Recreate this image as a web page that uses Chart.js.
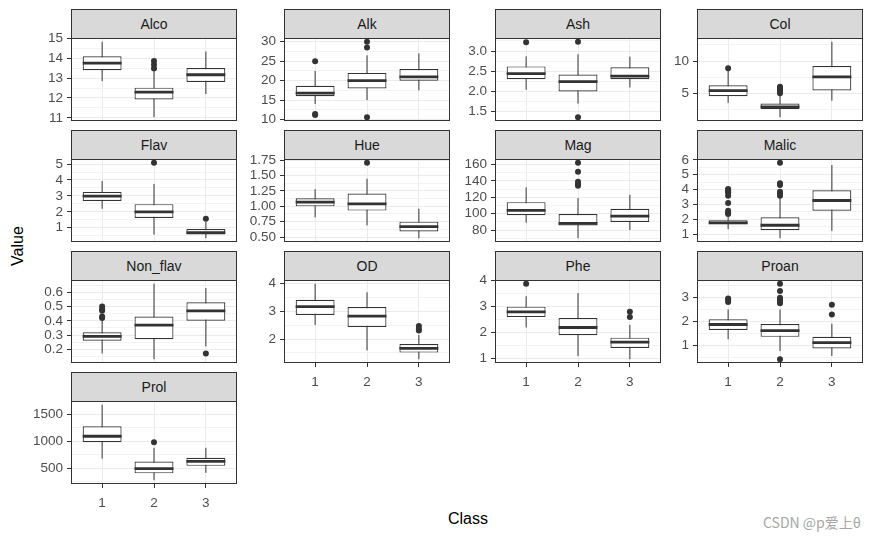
<!DOCTYPE html>
<html>
<head>
<meta charset="utf-8">
<script src="https://cdn.jsdelivr.net/npm/chart.js@4.4.1/dist/chart.umd.min.js"></script>
<style>
  body { margin: 0; width: 875px; height: 540px; background: #fff; position: relative; overflow: hidden;
         font-family: Arial, "Liberation Sans", sans-serif; }
  canvas { position: absolute; }
  .strip { position: absolute; box-sizing: border-box; background: #D9D9D9; border: 1px solid #333;
           text-align: center; color: #1A1A1A; font-size: 14px; }
  .title { position: absolute; color: #000; font-size: 16px; text-align: center; }
  .mark { position: absolute; left: 763px; top: 512px; font-size: 14px; color: #a6a6a6;
          font-family: "Noto Sans CJK SC", Arial, sans-serif; }
</style>
</head>
<body>
<div class="title" style="left:418px;top:510px;width:100px;">Class</div>
<div class="title" style="left:-32px;top:237px;width:100px;transform:rotate(-90deg);">Value</div>
<div class="mark">CSDN @p爱上θ</div>
<script>
// ===============================
// DATA  (per class: [low whisker, Q1, median, Q3, high whisker])
// ===============================
const classes = [1, 2, 3];

const alco = [[12.85, 13.40, 13.75, 14.10, 14.83], [11.03, 11.92, 12.29, 12.52, 13.34], [12.20, 12.81, 13.17, 13.51, 14.34]];
const alcoOut = [[], [13.49, 13.67, 13.86], []];
const alcoTicks = [11, 12, 13, 14, 15];

const alk = [[14.0, 16.0, 16.8, 18.7, 22.5], [15.0, 18.0, 20.0, 22.0, 26.5], [17.5, 20.0, 21.0, 23.0, 27.0]];
const alkOut = [[11.2, 11.4, 25.0], [10.6, 28.5, 30.0], []];
const alkTicks = [10, 15, 20, 25, 30];

const ash = [[2.04, 2.30, 2.44, 2.62, 2.87], [1.70, 2.00, 2.24, 2.42, 2.92], [2.10, 2.30, 2.38, 2.60, 2.86]];
const ashOut = [[3.22], [1.36, 3.23], []];
const ashTicks = [1.5, 2.0, 2.5, 3.0];

const col = [[3.52, 4.55, 5.40, 6.23, 8.70], [1.28, 2.54, 2.90, 3.40, 4.68], [3.85, 5.44, 7.55, 9.23, 13.0]];
const colOut = [[8.90], [5.00, 5.30, 5.68, 5.75, 6.00], []];
const colTicks = [5, 10];

const flav = [[2.19, 2.68, 2.98, 3.25, 3.93], [0.57, 1.61, 2.00, 2.48, 3.75], [0.34, 0.58, 0.69, 0.92, 1.36]];
const flavOut = [[], [5.08], [1.57]];
const flavTicks = [1, 2, 3, 4, 5];

const hue = [[0.82, 1.00, 1.07, 1.13, 1.28], [0.69, 0.93, 1.04, 1.21, 1.45], [0.48, 0.59, 0.67, 0.75, 0.96]];
const hueOut = [[], [1.71], []];
const hueTicks = [0.5, 0.75, 1.0, 1.25, 1.5, 1.75];

const mag = [[89, 98, 104, 114, 132], [70, 85.5, 88, 99.5, 119], [80, 89.75, 97, 106, 123]];
const magOut = [[], [134, 136, 139, 151, 162], []];
const magTicks = [80, 100, 120, 140, 160];

const malic = [[1.35, 1.67, 1.77, 1.94, 2.16], [0.74, 1.27, 1.61, 2.15, 3.43], [1.24, 2.59, 3.27, 3.96, 5.65]];
const malicOut = [[2.36, 2.43, 2.58, 3.10, 3.59, 3.80, 3.87, 3.98, 4.04], [3.59, 3.74, 3.86, 4.31, 4.43, 5.80], []];
const malicTicks = [1, 2, 3, 4, 5, 6];

const nonFlav = [[0.17, 0.26, 0.29, 0.32, 0.40], [0.13, 0.27, 0.37, 0.43, 0.66], [0.22, 0.40, 0.47, 0.53, 0.63]];
const nonFlavOut = [[0.42, 0.43, 0.47, 0.48, 0.50], [], [0.17]];
const nonFlavTicks = [0.2, 0.3, 0.4, 0.5, 0.6];

const od = [[2.51, 2.87, 3.17, 3.42, 4.00], [1.59, 2.44, 2.83, 3.16, 3.69], [1.27, 1.51, 1.66, 1.82, 2.15]];
const odOut = [[], [], [2.31, 2.36, 2.47]];
const odTicks = [2, 3, 4];

const phe = [[2.20, 2.60, 2.80, 3.00, 3.40], [1.10, 1.90, 2.20, 2.56, 3.52], [0.98, 1.41, 1.64, 1.81, 2.30]];
const pheOut = [[3.88], [], [2.60, 2.80]];
const pheTicks = [1, 2, 3, 4];

const proan = [[1.25, 1.64, 1.87, 2.09, 2.50], [0.75, 1.35, 1.61, 1.89, 2.50], [0.55, 0.86, 1.11, 1.35, 1.90]];
const proanOut = [[2.81, 2.91, 2.96], [0.41, 2.76, 2.81, 2.91, 2.99, 3.28, 3.58], [2.29, 2.70]];
const proanTicks = [1, 2, 3];

const prol = [[680, 985, 1095, 1280, 1680], [278, 406, 495, 625, 880], [415, 545, 628, 695, 880]];
const prolOut = [[], [985], []];
const prolTicks = [500, 1000, 1500];

const panels = [
  { name: "Alco", box: alco, out: alcoOut, ticks: alcoTicks, digits: 0 },
  { name: "Alk", box: alk, out: alkOut, ticks: alkTicks, digits: 0 },
  { name: "Ash", box: ash, out: ashOut, ticks: ashTicks, digits: 1 },
  { name: "Col", box: col, out: colOut, ticks: colTicks, digits: 0 },
  { name: "Flav", box: flav, out: flavOut, ticks: flavTicks, digits: 0 },
  { name: "Hue", box: hue, out: hueOut, ticks: hueTicks, digits: 2 },
  { name: "Mag", box: mag, out: magOut, ticks: magTicks, digits: 0 },
  { name: "Malic", box: malic, out: malicOut, ticks: malicTicks, digits: 0 },
  { name: "Non_flav", box: nonFlav, out: nonFlavOut, ticks: nonFlavTicks, digits: 1 },
  { name: "OD", box: od, out: odOut, ticks: odTicks, digits: 0 },
  { name: "Phe", box: phe, out: pheOut, ticks: pheTicks, digits: 0 },
  { name: "Proan", box: proan, out: proanOut, ticks: proanTicks, digits: 0 },
  { name: "Prol", box: prol, out: prolOut, ticks: prolTicks, digits: 0 }
];

// ===============================
// LAYOUT
// ===============================
const colLeft = [71, 284, 495, 697];
const rowTop = [9, 130, 251, 372];
const panelW = 168, stripH = 29, plotH = 83, axisW = 56, padTop = 9;
const BOX_W = 0.75;

Chart.defaults.font.family = 'Arial, "Liberation Sans", sans-serif';

const panelBorder = {
  id: "panelBorder",
  afterDraw(chart) {
    const a = chart.chartArea, c = chart.ctx;
    c.save();
    c.strokeStyle = "#333333";
    c.lineWidth = 1;
    c.strokeRect(Math.round(a.left) + 0.5, Math.round(a.top) + 0.5,
                 Math.round(a.right - a.left) - 1, Math.round(a.bottom - a.top) - 1);
    c.restore();
  }
};

function yLimits(p) {
  const all = p.box.flat().concat(p.out.flat());
  const lo = Math.min(...all), hi = Math.max(...all);
  const pad = (hi - lo) * 0.05;
  return [lo - pad, hi + pad];
}

function yTickList(p, min, max) {
  const step = p.ticks[1] - p.ticks[0];
  const list = p.ticks.map(v => ({ value: v, minor: false }));
  const mids = p.ticks.map(v => v - step / 2).concat([p.ticks[p.ticks.length - 1] + step / 2]);
  mids.forEach(v => { if (v >= min && v <= max) list.push({ value: v, minor: true }); });
  return list.sort((a, b) => a.value - b.value);
}

function noPad(s) {
  s.paddingTop = 0;
  s.paddingBottom = 0;
  s.paddingLeft = 0;
  s.paddingRight = 0;
}

// ===============================
// BUILD PANELS
// ===============================
panels.forEach((p, i) => {
  const c = i % 4, r = Math.floor(i / 4);
  const showX = r === 3 || (r === 2 && c > 0);
  const xH = showX ? 26 : 0;
  const plotTop = rowTop[r] + stripH;

  const canvas = document.createElement("canvas");
  canvas.width = axisW + panelW + 2;
  canvas.height = padTop + plotH + xH + 4;
  canvas.style.left = (colLeft[c] - axisW) + "px";
  canvas.style.top = (plotTop - padTop) + "px";
  document.body.appendChild(canvas);

  const [ymin, ymax] = yLimits(p);
  const ticks = yTickList(p, ymin, ymax);

  const boxes = classes.map((k, j) => ({ x: k, y: [p.box[j][1], p.box[j][3]] }));
  const whiskers = [];
  const medians = [];
  const points = [];
  classes.forEach((k, j) => {
    whiskers.push({ x: k, y: p.box[j][0] }, { x: k, y: p.box[j][4] }, { x: k + 0.5, y: null });
    medians.push({ x: k - BOX_W / 2, y: p.box[j][2] }, { x: k + BOX_W / 2, y: p.box[j][2] }, { x: k + 0.5, y: null });
    p.out[j].forEach(v => points.push({ x: k, y: v }));
  });

  const chart = new Chart(canvas, {
    type: "bar",
    data: {
      datasets: [
        { type: "line", data: whiskers, borderColor: "#333333", borderWidth: 1, pointRadius: 0,
          spanGaps: false, order: 3 },
        { type: "bar", data: boxes, backgroundColor: "#ffffff", borderColor: "#333333", borderWidth: 1.2,
          borderSkipped: false, barPercentage: BOX_W, categoryPercentage: 1, order: 2 },
        { type: "line", data: medians, borderColor: "#333333", borderWidth: 2.8, borderCapStyle: "butt",
          pointRadius: 0, spanGaps: false, order: 1 },
        { type: "scatter", data: points, backgroundColor: "#333333", borderWidth: 0, pointRadius: 3,
          order: 0 }
      ]
    },
    options: {
      responsive: false,
      maintainAspectRatio: false,
      animation: false,
      devicePixelRatio: 1,
      layout: { padding: { top: padTop, right: 2, bottom: 4, left: 0 } },
      plugins: { legend: { display: false }, tooltip: { enabled: false } },
      scales: {
        x: {
          type: "linear", min: 0.4, max: 3.6, offset: false,
          afterBuildTicks: s => { s.ticks = classes.map(v => ({ value: v })); },
          afterFit: s => { s.height = xH; noPad(s); },
          border: { display: false },
          grid: { offset: false, color: "#EBEBEB", lineWidth: 1, drawTicks: showX, tickLength: 4,
                  tickColor: "#333333", tickWidth: 1 },
          ticks: { display: showX, color: "#4D4D4D", font: { size: 13.5 }, padding: 7, autoSkip: false,
                   maxRotation: 0, callback: v => String(v) }
        },
        y: {
          type: "linear", min: ymin, max: ymax, bounds: "data",
          afterBuildTicks: s => { s.ticks = ticks.map(t => ({ value: t.value, minor: t.minor })); },
          afterFit: s => { s.width = axisW; noPad(s); },
          border: { display: false },
          grid: {
            color: ctx => (ctx.tick && ctx.tick.minor ? "#F3F3F3" : "#EBEBEB"),
            lineWidth: 1,
            tickLength: 4,
            tickWidth: 1,
            tickColor: ctx => (ctx.tick && ctx.tick.minor ? "rgba(0,0,0,0)" : "#333333")
          },
          ticks: {
            color: "#4D4D4D", font: { size: 13.5 }, padding: 4, autoSkip: false,
            callback: (v, idx, arr) => (arr[idx].minor ? "" : v.toFixed(p.digits))
          }
        }
      }
    },
    plugins: [panelBorder]
  });

  // keep the plot area at its exact size and place
  let a = chart.chartArea;
  const diff = plotH - Math.round(a.bottom - a.top);
  if (diff !== 0) {
    chart.resize(canvas.width, canvas.height + diff);
    a = chart.chartArea;
  }
  canvas.style.left = (colLeft[c] - Math.round(a.left)) + "px";
  canvas.style.top = (plotTop - Math.round(a.top)) + "px";

  const strip = document.createElement("div");
  strip.className = "strip";
  strip.style.left = colLeft[c] + "px";
  strip.style.top = rowTop[r] + "px";
  strip.style.width = Math.round(a.right - a.left) + "px";
  strip.style.height = (stripH + 1) + "px";
  strip.style.lineHeight = (stripH - 1) + "px";
  strip.textContent = p.name;
  document.body.appendChild(strip);
});
</script>
</body>
</html>
